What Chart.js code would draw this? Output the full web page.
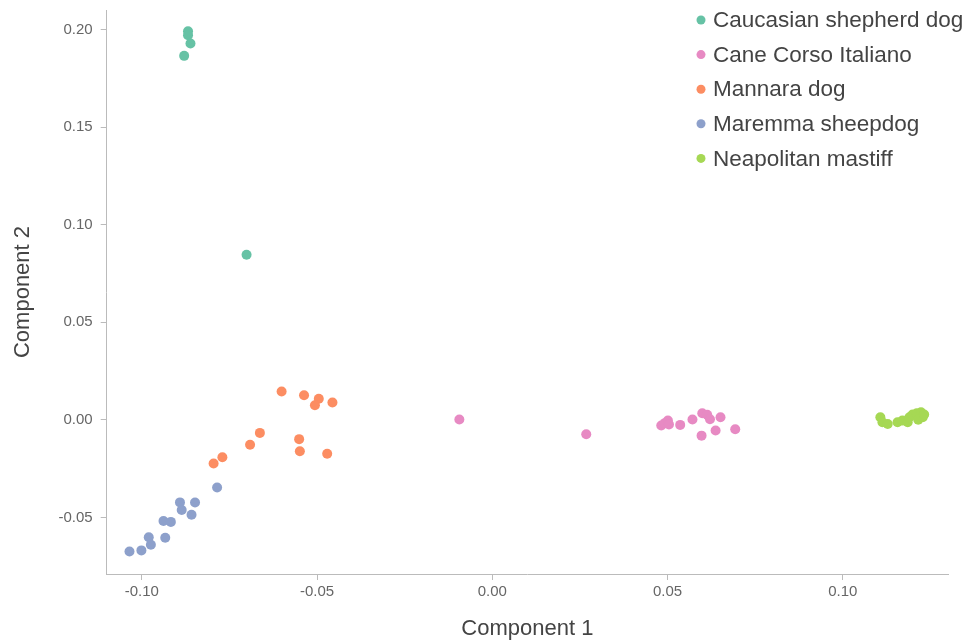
<!DOCTYPE html>
<html>
<head>
<meta charset="utf-8">
<script src="https://cdn.jsdelivr.net/npm/chart.js@4.4.0/dist/chart.umd.min.js"></script>
<style>
  html, body { margin:0; padding:0; background:#fff; }
  #wrap { width:967px; height:640px; }
</style>
</head>
<body>
<div id="wrap"><canvas id="pca"></canvas></div>
<script>
// PCA scores
const breeds = ['Caucasian shepherd dog','Cane Corso Italiano','Mannara dog','Maremma sheepdog','Neapolitan mastiff'];
const colors = ['#66c2a5','#e78ac3','#fc8d62','#8da0cb','#a6d854'];

const caucasianX = [-0.0868,-0.0868,-0.0861,-0.0879,-0.0701];
const caucasianY = [0.1991,0.1971,0.1928,0.1865,0.0846];

const caneCorsoX = [-0.0094,0.0268,0.0482,0.0492,0.0501,0.0504,0.0536,0.0571,0.0599,0.0613,0.0621,0.0651,0.0597,0.0637,0.0693];
const caneCorsoY = [0.0002,-0.0074,-0.0029,-0.0017,-0.0004,-0.0024,-0.0026,0.0002,0.0034,0.0026,0.0003,0.0013,-0.0081,-0.0055,-0.0048];

const mannaraX = [-0.0601,-0.0537,-0.0495,-0.0506,-0.0456,-0.0551,-0.0549,-0.0471,-0.0663,-0.0691,-0.0770,-0.0795];
const mannaraY = [0.0145,0.0126,0.0108,0.0075,0.0089,-0.0099,-0.0161,-0.0174,-0.0067,-0.0128,-0.0192,-0.0224];

const maremmaX = [-0.0785,-0.0891,-0.0848,-0.0886,-0.0858,-0.0938,-0.0917,-0.0980,-0.0933,-0.0974,-0.1001,-0.1035];
const maremmaY = [-0.0347,-0.0423,-0.0424,-0.0462,-0.0486,-0.0518,-0.0523,-0.0602,-0.0604,-0.0640,-0.0669,-0.0675];

const neapolitanX = [0.1107,0.1113,0.1128,0.1156,0.1170,0.1185,0.1190,0.1199,0.1211,0.1223,0.1228,0.1215,0.1232];
const neapolitanY = [0.0013,-0.0012,-0.0021,-0.0012,-0.0004,-0.0012,0.0013,0.0027,0.0034,0.0039,0.0013,0.0000,0.0027];

const xTicks = [-0.10,-0.05,0.00,0.05,0.10];
const yTicks = [-0.05,0.00,0.05,0.10,0.15,0.20];

const series = [[caucasianX,caucasianY],[caneCorsoX,caneCorsoY],[mannaraX,mannaraY],[maremmaX,maremmaY],[neapolitanX,neapolitanY]];

const FONT = '"Liberation Sans", Arial, sans-serif';

// legend drawn inside the plot, top right
const insideLegend = {
  id: 'insideLegend',
  afterDraw(chart) {
    const ctx = chart.ctx;
    ctx.save();
    ctx.font = '22.5px ' + FONT;
    ctx.textBaseline = 'middle';
    chart.data.datasets.forEach((ds, i) => {
      const y = 20 + i * 34.6;
      ctx.fillStyle = ds.backgroundColor;
      ctx.beginPath(); ctx.arc(701, y, 4.5, 0, Math.PI*2); ctx.fill();
      ctx.fillStyle = '#444';
      ctx.fillText(ds.label, 713, y + 1);
    });
    ctx.restore();
  }
};

new Chart(document.getElementById('pca'), {
  type: 'scatter',
  data: {
    datasets: breeds.map((b, i) => ({
      label: b,
      data: series[i][0].map((x, j) => ({ x, y: series[i][1][j] })),
      backgroundColor: colors[i],
      borderWidth: 0,
      pointRadius: 5,
      pointHoverRadius: 5
    }))
  },
  options: {
    responsive: true,
    maintainAspectRatio: false,
    animation: false,
    layout: { padding: { top: 10, right: 19, left: 0, bottom: 0 } },
    plugins: { legend: { display: false }, tooltip: { enabled: false } },
    scales: {
      x: {
        type: 'linear', min: -0.11, max: 0.13,
        afterBuildTicks: s => { s.ticks = xTicks.map(v => ({ value: v })); },
        afterFit: s => { s.height = 66; s.paddingLeft = 0; s.paddingRight = 0; },
        grid: { drawOnChartArea: false, color: '#bbb', tickLength: 6 },
        border: { color: '#bbb' },
        ticks: { color: '#666', font: { size: 15, family: FONT }, padding: 3, callback: v => v.toFixed(2) },
        title: { display: true, text: 'Component 1', color: '#444', font: { size: 22, family: FONT, lineHeight: 1 }, padding: { top: -3, bottom: 0 } }
      },
      y: {
        type: 'linear', min: -0.079, max: 0.21,
        afterBuildTicks: s => { s.ticks = yTicks.map(v => ({ value: v })); },
        afterFit: s => { s.width = 106.7; s.paddingTop = 0; s.paddingBottom = 0; },
        grid: { drawOnChartArea: false, color: '#bbb', tickLength: 6 },
        border: { color: '#bbb' },
        ticks: { color: '#666', font: { size: 15, family: FONT }, padding: 8, callback: v => v.toFixed(2) },
        title: { display: true, text: 'Component 2', color: '#444', font: { size: 22, family: FONT }, padding: { top: 10, bottom: 0 } }
      }
    }
  },
  plugins: [insideLegend]
});
</script>
</body>
</html>
